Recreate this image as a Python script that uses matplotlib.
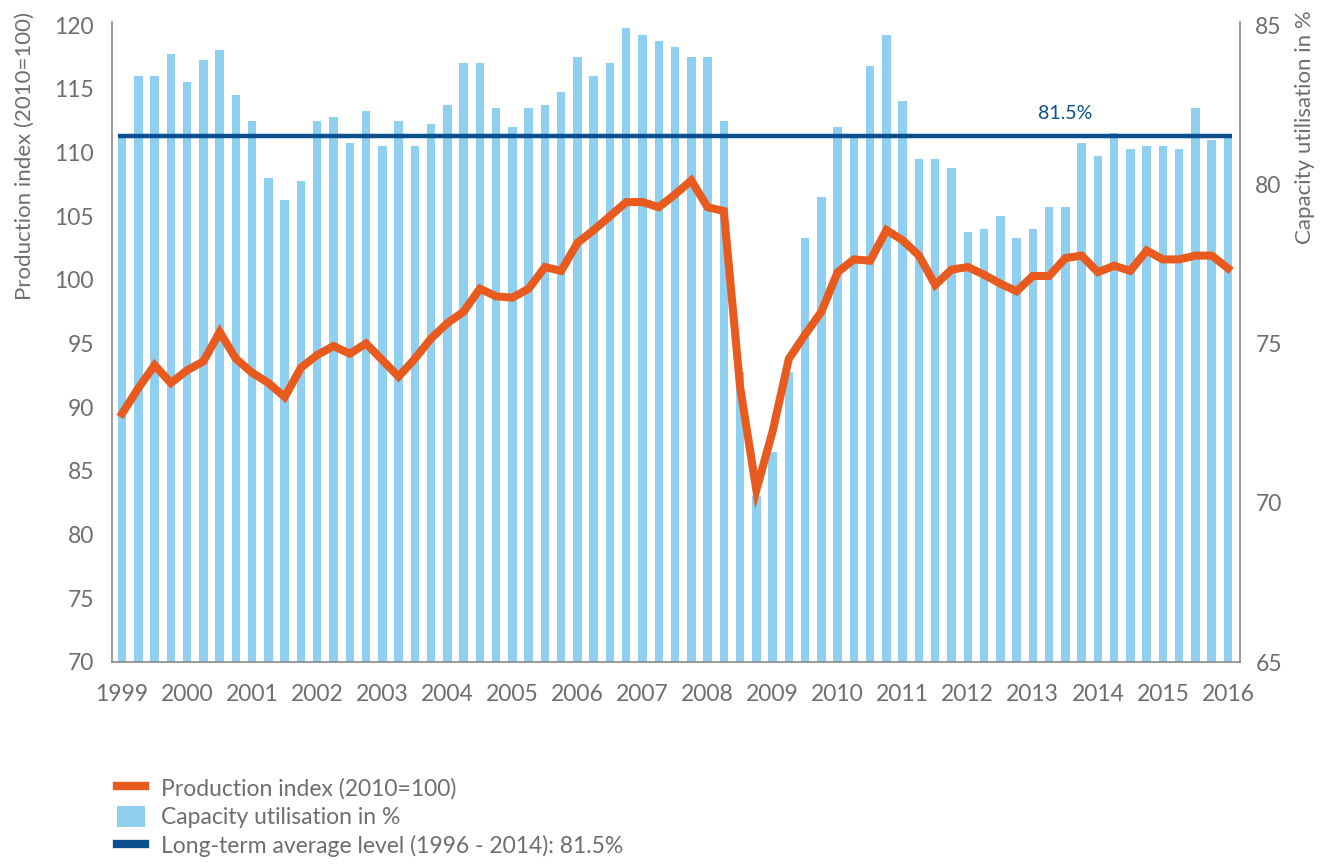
import matplotlib

matplotlib.use("Agg")
import matplotlib.pyplot as plt
from matplotlib.lines import Line2D
from matplotlib.patches import Patch

plt.rcParams["font.family"] = ["Lato", "DejaVu Sans"]

GREY = "#6d6e70"
ORANGE = "#e85a1d"
LIGHT_BLUE = "#8fcff0"
DARK_BLUE = "#0b4f8e"

# quarterly, 1999 Q1 .. 2016 Q1
years = list(range(1999, 2017))
capacity = [
    81.5, 83.4, 83.4, 84.1, 83.2, 83.9, 84.2, 82.8, 82.0, 80.2, 79.5, 80.1,
    82.0, 82.1, 81.3, 82.3, 81.2, 82.0, 81.2, 81.9, 82.5, 83.8, 83.8, 82.4,
    81.8, 82.4, 82.5, 82.9, 84.0, 83.4, 83.8, 84.9, 84.7, 84.5, 84.3, 84.0,
    84.0, 82.0, 74.1, 70.2, 71.6, 74.1, 78.3, 79.6, 81.8, 81.5, 83.7, 84.7,
    82.6, 80.8, 80.8, 80.5, 78.5, 78.6, 79.0, 78.3, 78.6, 79.3, 79.3, 81.3,
    80.9, 81.6, 81.1, 81.2, 81.2, 81.1, 82.4, 81.4, 81.5,
]
production = [
    89.5, 91.5, 93.3, 91.9, 92.9, 93.6, 95.9, 93.8, 92.7, 91.9, 90.8, 93.1,
    94.1, 94.8, 94.2, 95.0, 93.7, 92.4, 93.8, 95.4, 96.6, 97.5, 99.3, 98.7,
    98.6, 99.3, 101.0, 100.7, 102.9, 103.9, 105.0, 106.1, 106.1, 105.7, 106.7, 107.8,
    105.7, 105.4, 91.6, 83.5, 88.1, 93.8, 95.7, 97.5, 100.6, 101.6, 101.5, 103.9,
    103.1, 101.9, 99.6, 100.8, 101.0, 100.4, 99.7, 99.1, 100.3, 100.3, 101.7, 101.9,
    100.6, 101.1, 100.7, 102.3, 101.6, 101.6, 101.9, 101.9, 100.9,
]
long_term_avg = 81.5

left_ticks = list(range(70, 121, 5))
right_ticks = list(range(65, 86, 5))

x = list(range(len(capacity)))
bar_w = 0.52

fig = plt.figure(figsize=(13.23, 8.64), dpi=100)
ax = fig.add_axes([112 / 1323, 1 - 662 / 864, (1240 - 112) / 1323, 640 / 864])
ax2 = ax.twinx()

# bars on the right axis (capacity utilisation)
ax2.bar(x, [c - 65 for c in capacity], bottom=65, width=bar_w, color=LIGHT_BLUE, zorder=1)
ax2.hlines(long_term_avg, x[0] - bar_w / 2, x[-1] + bar_w / 2, color=DARK_BLUE, linewidth=3.2, zorder=2)
ax2.text(x[58], long_term_avg + 0.45, "81.5%", color=DARK_BLUE, fontsize=14,
         ha="center", va="bottom")
ax2.set_ylim(65, 65 + 640 / 31.85)
ax2.set_yticks(right_ticks)

# line on the left axis, drawn above the bars
ax.set_zorder(ax2.get_zorder() + 1)
ax.patch.set_visible(False)
ax.plot(x, production, color=ORANGE, linewidth=5.8, solid_joinstyle="miter", zorder=3)
ax.set_ylim(70, 70 + 640 / 12.74)
ax.set_yticks(left_ticks)
ax.set_xlim(-0.62, len(x) - 1 + 0.74)
ax.set_xticks(x[::4])
ax.set_xticklabels([str(y) for y in years])

for a in (ax, ax2):
    a.spines["top"].set_visible(False)
    a.spines["left"].set_visible(a is ax)
    a.spines["bottom"].set_visible(a is ax)
    a.spines["right"].set_visible(a is ax2)
    for s in a.spines.values():
        s.set_color("#8a8a8a")
        s.set_linewidth(1.2)
    a.tick_params(length=0, colors=GREY, labelsize=16.5)
ax.tick_params(axis="y", pad=13)
ax.tick_params(axis="x", pad=16)
ax2.tick_params(axis="y", pad=11)

fig.text(25 / 1323, 1 - 12 / 864, "Production index (2010=100)", rotation=90,
         ha="center", va="top", color=GREY, fontsize=16)
fig.text(1305 / 1323, 1 - 10 / 864, "Capacity utilisation in %", rotation=90,
         ha="center", va="top", color=GREY, fontsize=16)

handles = [
    Line2D([], [], color=ORANGE, linewidth=6),
    Patch(facecolor=LIGHT_BLUE, edgecolor="none"),
    Line2D([], [], color=DARK_BLUE, linewidth=6),
]
labels = [
    "Production index (2010=100)",
    "Capacity utilisation in %",
    "Long-term average level (1996 - 2014): 81.5%",
]
fig.legend(handles, labels, loc="upper left", bbox_to_anchor=(108 / 1323, 1 - 768 / 864),
           frameon=False, fontsize=16.5, labelcolor=GREY, handlelength=1.2, handleheight=1.0,
           handletextpad=0.7, labelspacing=0.3, borderaxespad=0)

fig.savefig("out.png", dpi=100)
